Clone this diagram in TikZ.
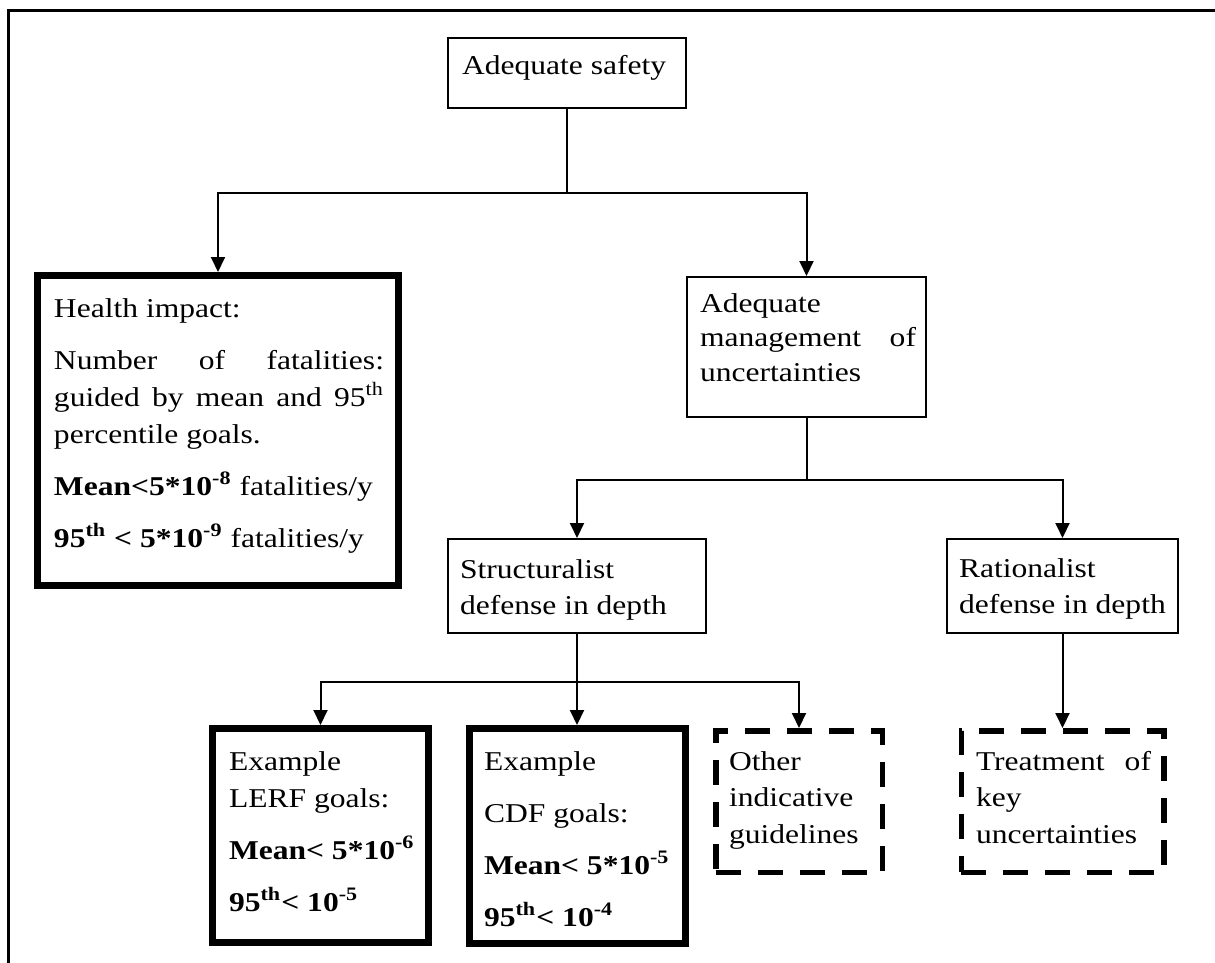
\documentclass[tikz,border=0pt]{standalone}
\usepackage{fontspec}
\setmainfont{Liberation Serif}
\usepackage{graphicx}
\usetikzlibrary{arrows.meta}
\hyphenpenalty=10000
\exhyphenpenalty=10000
% text block: width before stretching, baseline skip, content (stretched 1.16 horizontally)
\newcommand\boxtext[3]{\scalebox{1.16}[1]{\begin{minipage}[t]{#1}\fontsize{13.6pt}{#2}\selectfont\setlength\parindent{0pt}\setlength\parskip{7.5pt}#3\end{minipage}}}
\begin{document}
\begin{tikzpicture}[x=0.5pt, y=-0.5pt, line width=1pt,
  >={Triangle[length=7.5pt,width=7pt]},
  box/.style={draw, rectangle, inner sep=0pt, line width=1pt},
  heavybox/.style={box, line width=3.5pt},
  dashbox/.style={box, line width=2.75pt, dash pattern=on 12.5pt off 8.5pt},
  txt/.style={anchor=base west, inner sep=0pt},
  link/.style={line width=1pt}]
\useasboundingbox (0,0) rectangle (1215,963);

% outer frame
\draw[line width=1.5pt] (8,963) -- (8,11) -- (1215,11);

% boxes
\node[box, minimum width=119pt, minimum height=35pt] (safety) at (567,73) {};
\node[heavybox, minimum width=180.5pt, minimum height=155pt] (health) at (218,430.5) {};
\node[box, minimum width=119.5pt, minimum height=70pt] (mgmt) at (806.5,347) {};
\node[box, minimum width=129pt, minimum height=47pt] (struct) at (577,586) {};
\node[box, minimum width=115.5pt, minimum height=47pt] (ration) at (1062.5,586) {};
\node[heavybox, minimum width=108pt, minimum height=107pt] (lerf) at (320.5,835.5) {};
\node[heavybox, minimum width=108pt, minimum height=107.5pt] (cdf) at (577,836) {};
\node[dashbox, minimum width=83.25pt, minimum height=70.75pt] (other) at (799,801.5) {};
\node[dashbox, minimum width=101.25pt, minimum height=70.75pt] (treat) at (1062.5,801.5) {};

% texts
\node[txt] (tsafety) at (461,75) {\boxtext{110pt}{18pt}{Adequate safety}};
\node[txt] (thealth) at (53,317) {\boxtext{142.24pt}{18.5pt}{Health impact:\par
  Number of fatalities:\linebreak guided by mean and 95\textsuperscript{th}\linebreak percentile goals.\par
  \textbf{Mean<5*10\textsuperscript{-8}} fatalities/y\par
  \textbf{95\textsuperscript{th} < 5*10\textsuperscript{-9}} fatalities/y}};
\node[txt] (tmgmt) at (699,312) {\boxtext{93.1pt}{17.25pt}{Adequate\newline management of\linebreak uncertainties}};
\node[txt] (tstruct) at (459,578) {\boxtext{105pt}{18pt}{Structuralist\newline defense in depth}};
\node[txt] (tration) at (958,577) {\boxtext{105pt}{18pt}{Rationalist\newline defense in depth}};
\node[txt] (tlerf) at (228,770) {\boxtext{86pt}{18.5pt}{Example\newline LERF goals:\par
  \textbf{Mean< 5*10\textsuperscript{-6}}\par
  \textbf{95\textsuperscript{th}< 10\textsuperscript{-5}}}};
\node[txt] (tcdf) at (483,770) {\boxtext{86pt}{18.5pt}{Example\par CDF goals:\par
  \textbf{Mean< 5*10\textsuperscript{-5}}\par
  \textbf{95\textsuperscript{th}< 10\textsuperscript{-4}}}};
\node[txt] (tother) at (728,770) {\boxtext{80pt}{18.25pt}{Other\newline indicative\newline guidelines}};
\node[txt] (ttreat) at (975,770) {\boxtext{75.43pt}{18.25pt}{Treatment of\linebreak key\newline uncertainties}};

% connectors
\coordinate (j1) at (567,193);
\draw[link] (safety.south) -- (j1);
\draw[link,->] (j1) -| (health.north);
\draw[link,->] (j1) -| (mgmt.north);

\coordinate (j2) at (806.5,480);
\draw[link] (mgmt.south) -- (j2);
\draw[link,->] (j2) -| (struct.north);
\draw[link,->] (j2) -| (ration.north);

\coordinate (j3) at (577,682);
\draw[link] (struct.south) -- (j3);
\draw[link,->] (j3) -| (lerf.north);
\draw[link,->] (j3) -- (cdf.north);
\draw[link,->] (j3) -| (other.north);

\draw[link,->] (ration.south) -- (treat.north);
\end{tikzpicture}
\end{document}
